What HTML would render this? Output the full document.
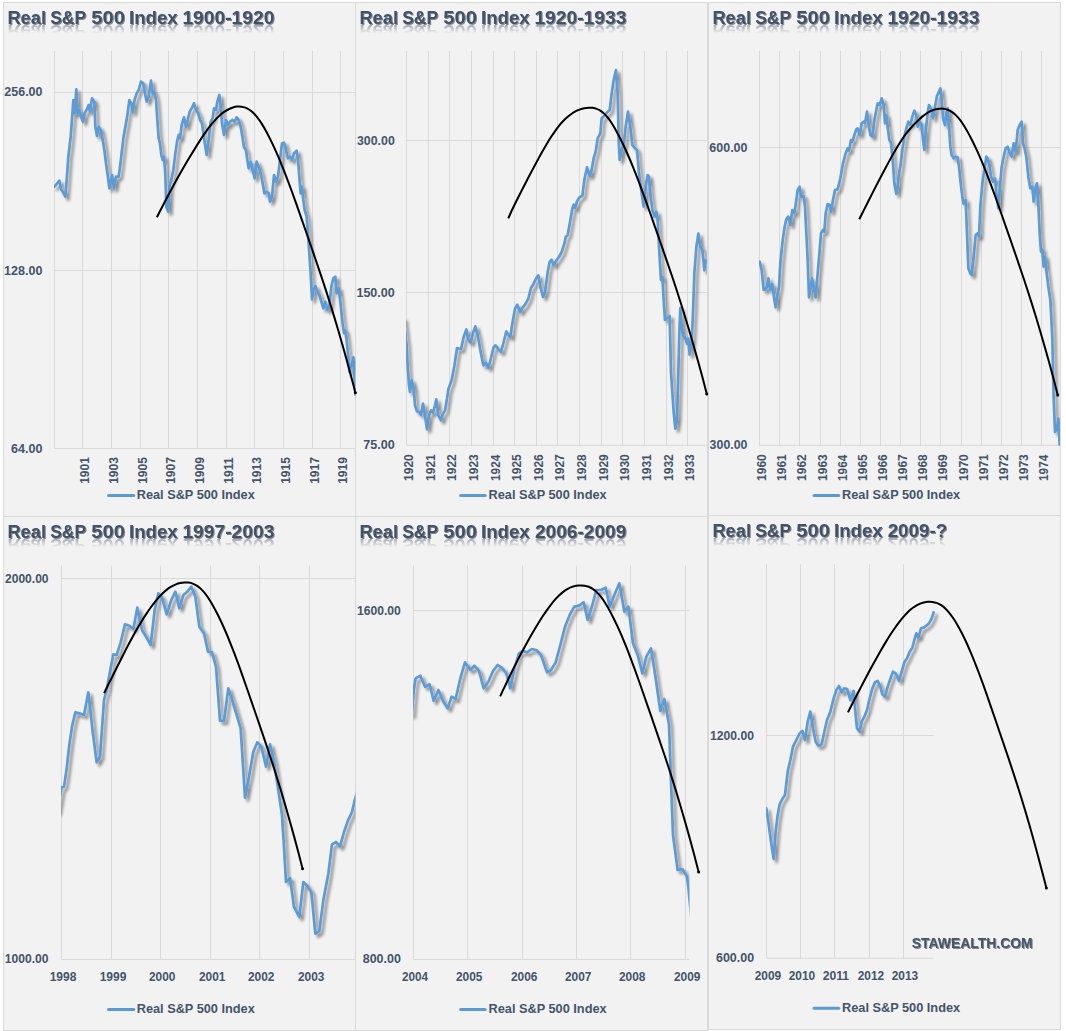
<!DOCTYPE html>
<html><head><meta charset="utf-8"><title>Real S&amp;P 500 Index</title>
<style>html,body{margin:0;padding:0;background:#fff;}body{width:1066px;height:1031px;overflow:hidden;font-family:"Liberation Sans",sans-serif;}svg{display:block;}text{font-family:"Liberation Sans",sans-serif;font-weight:bold;}</style>
</head><body>
<svg width="1066" height="1031" viewBox="0 0 1066 1031">
<defs>
<filter id="sh" x="-5%" y="-5%" width="110%" height="110%"><feGaussianBlur in="SourceAlpha" stdDeviation="1.7"/><feOffset dx="3" dy="2.6"/><feComponentTransfer><feFuncA type="linear" slope="0.44"/></feComponentTransfer><feMerge><feMergeNode/><feMergeNode in="SourceGraphic"/></feMerge></filter>
<filter id="tsh" x="-5%" y="-30%" width="110%" height="160%"><feGaussianBlur in="SourceAlpha" stdDeviation="0.7"/><feOffset dx="1" dy="1"/><feComponentTransfer><feFuncA type="linear" slope="0.45"/></feComponentTransfer><feMerge><feMergeNode/><feMergeNode in="SourceGraphic"/></feMerge></filter>
<filter id="rb" x="-5%" y="-30%" width="110%" height="160%"><feGaussianBlur stdDeviation="0.5"/></filter>
<linearGradient id="rg" x1="0" y1="0" x2="0" y2="1"><stop offset="0" stop-color="#fff" stop-opacity="0.5"/><stop offset="1" stop-color="#fff" stop-opacity="0"/></linearGradient>
<clipPath id="c1"><rect x="54" y="51" width="301.5" height="398"/></clipPath>
<mask id="m1" maskUnits="userSpaceOnUse" x="3.7" y="24.2" width="290" height="12"><rect x="3.7" y="24.2" width="290" height="9" fill="url(#rg)"/></mask>
<clipPath id="c2"><rect x="406" y="51" width="301" height="394.8"/></clipPath>
<mask id="m2" maskUnits="userSpaceOnUse" x="355.7" y="24.2" width="290" height="12"><rect x="355.7" y="24.2" width="290" height="9" fill="url(#rg)"/></mask>
<clipPath id="c3"><rect x="759" y="51" width="301" height="394.8"/></clipPath>
<mask id="m3" maskUnits="userSpaceOnUse" x="708.7" y="24.2" width="290" height="12"><rect x="708.7" y="24.2" width="290" height="9" fill="url(#rg)"/></mask>
<clipPath id="c4"><rect x="61" y="565.7" width="294.5" height="394.3"/></clipPath>
<mask id="m4" maskUnits="userSpaceOnUse" x="3.7" y="538.1" width="290" height="12"><rect x="3.7" y="538.1" width="290" height="9" fill="url(#rg)"/></mask>
<clipPath id="c5"><rect x="413" y="565.7" width="276.5" height="394.3"/></clipPath>
<mask id="m5" maskUnits="userSpaceOnUse" x="355.7" y="538.1" width="290" height="12"><rect x="355.7" y="538.1" width="290" height="9" fill="url(#rg)"/></mask>
<clipPath id="c6"><rect x="766" y="564.3" width="294" height="394.5"/></clipPath>
<mask id="m6" maskUnits="userSpaceOnUse" x="708.7" y="537.4" width="290" height="12"><rect x="708.7" y="537.4" width="290" height="9" fill="url(#rg)"/></mask>
</defs>
<rect x="0" y="0" width="1066" height="1031" fill="#fff"/>
<rect x="3" y="2" width="1058" height="1029" fill="#F2F2F2"/>
<rect x="709" y="1030" width="357" height="1" fill="#fff"/>
<g fill="#D9D9D9">
<rect x="3" y="2" width="1058" height="1"/>
<rect x="3" y="2" width="1" height="1029"/>
<rect x="355" y="2" width="1" height="1029"/>
<rect x="707" y="2" width="2" height="1029"/>
<rect x="1060" y="2" width="1" height="1028"/>
<rect x="3" y="516" width="705" height="1"/>
<rect x="708" y="515" width="353" height="1"/>
<rect x="3" y="1030" width="706" height="1"/>
<rect x="708" y="1029" width="353" height="1"/>
</g>
<!-- panel 1 -->
<g>
<path d="M54.5 51 V448.5 M82.5 51 V448.5 M111.5 51 V448.5 M140.5 51 V448.5 M168.5 51 V448.5 M197.5 51 V448.5 M226.5 51 V448.5 M254.5 51 V448.5 M283.5 51 V448.5 M312.5 51 V448.5 M340.5 51 V448.5 M54.5 92.5 H355 M54.5 270.5 H355 M54.5 448.5 H355" stroke="#D9D9D9" stroke-width="1" fill="none"/>
<g mask="url(#m1)"><g filter="url(#rb)" transform="translate(0 48.6) scale(1 -1)"><text x="7.4" y="23.7" font-size="17.6" fill="#42516A" textLength="38.61" lengthAdjust="spacingAndGlyphs">Real</text><text x="50.2" y="23.7" font-size="17.6" fill="#42516A" textLength="35.86" lengthAdjust="spacingAndGlyphs">S&amp;P</text><text x="91.23" y="23.7" font-size="17.6" fill="#42516A" textLength="33.65" lengthAdjust="spacingAndGlyphs">500</text><text x="128.97" y="23.7" font-size="17.6" fill="#42516A" textLength="48.74" lengthAdjust="spacingAndGlyphs">Index</text><text x="182.41" y="23.7" font-size="17.6" fill="#42516A" textLength="91.99" lengthAdjust="spacingAndGlyphs">1900-1920</text></g></g>
<g filter="url(#tsh)"><text x="7.4" y="23.7" font-size="17.6" fill="#42516A" textLength="38.61" lengthAdjust="spacingAndGlyphs">Real</text><text x="50.2" y="23.7" font-size="17.6" fill="#42516A" textLength="35.86" lengthAdjust="spacingAndGlyphs">S&amp;P</text><text x="91.23" y="23.7" font-size="17.6" fill="#42516A" textLength="33.65" lengthAdjust="spacingAndGlyphs">500</text><text x="128.97" y="23.7" font-size="17.6" fill="#42516A" textLength="48.74" lengthAdjust="spacingAndGlyphs">Index</text><text x="182.41" y="23.7" font-size="17.6" fill="#42516A" textLength="91.99" lengthAdjust="spacingAndGlyphs">1900-1920</text></g>
<text x="4.38" y="96.1" font-size="12" fill="#44546A" textLength="38.09" lengthAdjust="spacingAndGlyphs">256.00</text>
<text x="4.12" y="275" font-size="12" fill="#44546A" textLength="38.36" lengthAdjust="spacingAndGlyphs">128.00</text>
<text x="11.08" y="453" font-size="12" fill="#44546A" textLength="31.48" lengthAdjust="spacingAndGlyphs">64.00</text>
<text transform="translate(89 483.1) rotate(-90)" x="-0.75" y="0" font-size="12" fill="#44546A" textLength="26.7" lengthAdjust="spacingAndGlyphs">1901</text>
<text transform="translate(118 483.1) rotate(-90)" x="-0.75" y="0" font-size="12" fill="#44546A" textLength="26.7" lengthAdjust="spacingAndGlyphs">1903</text>
<text transform="translate(147 483.1) rotate(-90)" x="-0.75" y="0" font-size="12" fill="#44546A" textLength="26.7" lengthAdjust="spacingAndGlyphs">1905</text>
<text transform="translate(175 483.1) rotate(-90)" x="-0.75" y="0" font-size="12" fill="#44546A" textLength="26.7" lengthAdjust="spacingAndGlyphs">1907</text>
<text transform="translate(204 483.1) rotate(-90)" x="-0.75" y="0" font-size="12" fill="#44546A" textLength="26.7" lengthAdjust="spacingAndGlyphs">1909</text>
<text transform="translate(233 483.1) rotate(-90)" x="-0.77" y="0" font-size="12" fill="#44546A" textLength="26.55" lengthAdjust="spacingAndGlyphs">1911</text>
<text transform="translate(261 483.1) rotate(-90)" x="-0.75" y="0" font-size="12" fill="#44546A" textLength="26.7" lengthAdjust="spacingAndGlyphs">1913</text>
<text transform="translate(290 483.1) rotate(-90)" x="-0.75" y="0" font-size="12" fill="#44546A" textLength="26.7" lengthAdjust="spacingAndGlyphs">1915</text>
<text transform="translate(319 483.1) rotate(-90)" x="-0.75" y="0" font-size="12" fill="#44546A" textLength="26.7" lengthAdjust="spacingAndGlyphs">1917</text>
<text transform="translate(347 483.1) rotate(-90)" x="-0.75" y="0" font-size="12" fill="#44546A" textLength="26.7" lengthAdjust="spacingAndGlyphs">1919</text>
<path d="M108.5 495.5 H133.8" stroke="#5B9BD5" stroke-width="3" stroke-linecap="round" fill="none"/>
<text x="136.7" y="499" font-size="12" fill="#44546A" textLength="118.11" lengthAdjust="spacingAndGlyphs">Real S&amp;P 500 Index</text>
<g clip-path="url(#c1)"><path filter="url(#sh)" d="M54.33 186.67 L56.67 184 L59.33 180.67 L61 189.33 L63.33 192.67 L65.33 196.67 L66.67 180 L68.33 156.67 L70.67 136.67 L72.67 110 L73.33 100 L74.67 113.33 L76.33 89.33 L77.67 113.33 L79.33 110 L81 116.67 L83 121.67 L84.67 113.33 L87.33 108.33 L88.67 105 L90 111.67 L92 98.33 L94.33 101.67 L95.33 126.67 L97 136 L98.67 126.67 L101 130.67 L102.67 140 L104.33 150 L106 163.33 L107.67 175 L109.33 188.33 L112 175 L114 188.33 L116 176.67 L118.67 176.67 L120.67 161.67 L123.33 138.33 L126 123.33 L127.67 113.33 L129.33 100 L131.33 103.33 L132.67 112.67 L134.67 99.33 L136.67 93.33 L138.67 90 L141 81.67 L143.33 83.33 L144.67 91.67 L146.67 101.67 L148.67 96.67 L151 80.67 L152.67 93.33 L154 91.67 L156 100 L157.33 120 L158.67 138.33 L160 143.33 L161.33 155 L162.67 160 L164 156.67 L165.33 175 L166.33 206.67 L168.33 211.67 L169.33 186.67 L171.33 180 L173.33 170 L175.33 153.33 L177.33 140 L178.67 135 L180 138.33 L181.67 125 L184 117.33 L186 126.67 L187.67 120 L189.67 111.67 L191.67 108.33 L194 103.33 L196 110 L198.33 113.33 L200 120 L202 123.33 L204 138.33 L206.67 155 L208.67 140 L210.67 121.67 L212.67 118.33 L214 108.33 L216 110 L217.33 101.67 L219.33 95 L220.67 106.67 L222 123.33 L224 135 L226 120 L228 125 L230 121.67 L232.67 120 L234.67 121.67 L236.67 117.33 L238.67 120 L240.67 126.67 L242.67 138.33 L244 147.33 L246 150 L247.33 160 L248.67 168.33 L250.67 161.67 L252.67 170 L254.67 178.33 L256.67 161.67 L258.67 166.67 L260.67 173.33 L262.67 183.33 L264.33 193.33 L266.67 191.67 L268.67 193.33 L270 201.67 L272 196.67 L274 175 L276 181.67 L278 176.67 L280 160 L282 143.33 L284 142.67 L286 150 L288 158.33 L290 156.67 L292 160 L294 153.33 L296.67 150.67 L298 160 L299.33 176.67 L300.67 193.33 L302 186.67 L303.33 200 L304.67 210 L306.67 216.67 L308 233.33 L309.33 253.33 L310.67 273.33 L312 299.33 L313.33 290 L315.33 286 L317.33 291.67 L319.33 295 L321.33 301.67 L323.33 308.33 L325.33 301.67 L327.33 310 L329.33 306.67 L331.33 286.67 L333.33 278.33 L335.33 276.67 L336.67 293.33 L338.67 288.33 L339.7 296 L340.9 307.6 L342.5 322.4 L343.9 333.1 L345.2 330.3 L346.5 338.9 L347.5 348.8 L348.5 360.4 L349.5 371.9 L351.3 365.3 L353.4 357.4 L354.1 370.3 L354.9 386.8 L355.5 395" stroke="#5B9BD5" stroke-width="2.7" stroke-linejoin="round" stroke-linecap="round" fill="none"/></g>
<path d="M156.9 217.2 C157.6 215.83 159.71 211.7 161.12 208.97 C162.53 206.24 163.94 203.52 165.35 200.82 C166.76 198.12 168.16 195.41 169.57 192.75 C170.98 190.09 172.38 187.47 173.79 184.88 C175.2 182.29 176.6 179.75 178.01 177.24 C179.42 174.73 180.83 172.26 182.24 169.82 C183.65 167.38 185.05 164.97 186.46 162.58 C187.87 160.2 189.27 157.84 190.68 155.51 C192.09 153.18 193.5 150.88 194.91 148.61 C196.32 146.34 197.72 144.07 199.13 141.87 C200.54 139.67 201.94 137.51 203.35 135.43 C204.76 133.35 206.17 131.33 207.58 129.41 C208.99 127.49 210.39 125.63 211.8 123.91 C213.21 122.19 214.61 120.57 216.02 119.08 C217.43 117.59 218.83 116.2 220.24 114.97 C221.65 113.74 223.06 112.64 224.47 111.69 C225.88 110.73 227.28 109.94 228.69 109.24 C230.1 108.54 231.5 107.92 232.91 107.48 C234.32 107.04 235.74 106.73 237.14 106.6 C238.54 106.47 239.94 106.51 241.32 106.69 C242.7 106.87 244.05 107.17 245.4 107.68 C246.75 108.19 248.08 108.84 249.42 109.73 C250.76 110.62 252.09 111.69 253.43 113 C254.77 114.31 256.13 115.84 257.48 117.57 C258.83 119.3 260.16 121.25 261.51 123.37 C262.86 125.49 264.21 127.81 265.57 130.27 C266.93 132.73 268.3 135.36 269.68 138.12 C271.06 140.88 272.47 143.79 273.88 146.83 C275.29 149.87 276.71 153.06 278.13 156.36 C279.55 159.66 280.97 163.09 282.39 166.62 C283.81 170.15 285.23 173.82 286.66 177.55 C288.09 181.28 289.52 185.12 290.95 189.02 C292.38 192.92 293.81 196.91 295.24 200.93 C296.67 204.95 298.11 209.03 299.54 213.12 C300.97 217.21 302.4 221.33 303.83 225.45 C305.26 229.57 306.7 233.7 308.13 237.83 C309.56 241.96 310.99 246.08 312.42 250.23 C313.85 254.38 315.27 258.53 316.7 262.72 C318.13 266.91 319.56 271.11 320.99 275.39 C322.42 279.67 323.85 283.98 325.28 288.38 C326.71 292.78 328.13 297.24 329.56 301.79 C330.99 306.34 332.43 310.96 333.86 315.67 C335.29 320.38 336.72 325.19 338.16 330.08 C339.6 334.97 341.04 339.96 342.48 345.03 C343.92 350.1 345.37 355.25 346.81 360.49 C348.25 365.73 349.69 371.06 351.12 376.44 C352.55 381.82 354.67 390.06 355.38 392.79" stroke="#000" stroke-width="2" stroke-linecap="butt" fill="none"/>
<circle cx="355.38" cy="392.79" r="1.5" fill="#000"/>
</g>
<!-- panel 2 -->
<g>
<path d="M406.5 51 V445.3 M428.5 51 V445.3 M449.5 51 V445.3 M471.5 51 V445.3 M493.5 51 V445.3 M514.5 51 V445.3 M536.5 51 V445.3 M557.5 51 V445.3 M579.5 51 V445.3 M601.5 51 V445.3 M622.5 51 V445.3 M644.5 51 V445.3 M666.5 51 V445.3 M687.5 51 V445.3 M406.5 140.5 H708 M406.5 292.5 H708 M406.5 445.3 H708" stroke="#D9D9D9" stroke-width="1" fill="none"/>
<g mask="url(#m2)"><g filter="url(#rb)" transform="translate(0 48.6) scale(1 -1)"><text x="359.4" y="23.7" font-size="17.6" fill="#42516A" textLength="38.61" lengthAdjust="spacingAndGlyphs">Real</text><text x="402.2" y="23.7" font-size="17.6" fill="#42516A" textLength="35.86" lengthAdjust="spacingAndGlyphs">S&amp;P</text><text x="443.23" y="23.7" font-size="17.6" fill="#42516A" textLength="33.65" lengthAdjust="spacingAndGlyphs">500</text><text x="480.97" y="23.7" font-size="17.6" fill="#42516A" textLength="48.74" lengthAdjust="spacingAndGlyphs">Index</text><text x="534.41" y="23.7" font-size="17.6" fill="#42516A" textLength="91.99" lengthAdjust="spacingAndGlyphs">1920-1933</text></g></g>
<g filter="url(#tsh)"><text x="359.4" y="23.7" font-size="17.6" fill="#42516A" textLength="38.61" lengthAdjust="spacingAndGlyphs">Real</text><text x="402.2" y="23.7" font-size="17.6" fill="#42516A" textLength="35.86" lengthAdjust="spacingAndGlyphs">S&amp;P</text><text x="443.23" y="23.7" font-size="17.6" fill="#42516A" textLength="33.65" lengthAdjust="spacingAndGlyphs">500</text><text x="480.97" y="23.7" font-size="17.6" fill="#42516A" textLength="48.74" lengthAdjust="spacingAndGlyphs">Index</text><text x="534.41" y="23.7" font-size="17.6" fill="#42516A" textLength="91.99" lengthAdjust="spacingAndGlyphs">1920-1933</text></g>
<text x="356.94" y="145.1" font-size="12" fill="#44546A" textLength="37.82" lengthAdjust="spacingAndGlyphs">300.00</text>
<text x="356.42" y="297.1" font-size="12" fill="#44546A" textLength="38.36" lengthAdjust="spacingAndGlyphs">150.00</text>
<text x="363.38" y="449.3" font-size="12" fill="#44546A" textLength="31.48" lengthAdjust="spacingAndGlyphs">75.00</text>
<text transform="translate(412.9 480.2) rotate(-90)" x="-0.75" y="0" font-size="12" fill="#44546A" textLength="26.7" lengthAdjust="spacingAndGlyphs">1920</text>
<text transform="translate(434.9 480.2) rotate(-90)" x="-0.75" y="0" font-size="12" fill="#44546A" textLength="26.7" lengthAdjust="spacingAndGlyphs">1921</text>
<text transform="translate(455.9 480.2) rotate(-90)" x="-0.75" y="0" font-size="12" fill="#44546A" textLength="26.7" lengthAdjust="spacingAndGlyphs">1922</text>
<text transform="translate(477.9 480.2) rotate(-90)" x="-0.75" y="0" font-size="12" fill="#44546A" textLength="26.7" lengthAdjust="spacingAndGlyphs">1923</text>
<text transform="translate(499.9 480.2) rotate(-90)" x="-0.74" y="0" font-size="12" fill="#44546A" textLength="26.18" lengthAdjust="spacingAndGlyphs">1924</text>
<text transform="translate(520.9 480.2) rotate(-90)" x="-0.75" y="0" font-size="12" fill="#44546A" textLength="26.7" lengthAdjust="spacingAndGlyphs">1925</text>
<text transform="translate(542.9 480.2) rotate(-90)" x="-0.75" y="0" font-size="12" fill="#44546A" textLength="26.7" lengthAdjust="spacingAndGlyphs">1926</text>
<text transform="translate(563.9 480.2) rotate(-90)" x="-0.75" y="0" font-size="12" fill="#44546A" textLength="26.7" lengthAdjust="spacingAndGlyphs">1927</text>
<text transform="translate(585.9 480.2) rotate(-90)" x="-0.75" y="0" font-size="12" fill="#44546A" textLength="26.7" lengthAdjust="spacingAndGlyphs">1928</text>
<text transform="translate(607.9 480.2) rotate(-90)" x="-0.75" y="0" font-size="12" fill="#44546A" textLength="26.7" lengthAdjust="spacingAndGlyphs">1929</text>
<text transform="translate(628.9 480.2) rotate(-90)" x="-0.75" y="0" font-size="12" fill="#44546A" textLength="26.7" lengthAdjust="spacingAndGlyphs">1930</text>
<text transform="translate(650.9 480.2) rotate(-90)" x="-0.75" y="0" font-size="12" fill="#44546A" textLength="26.7" lengthAdjust="spacingAndGlyphs">1931</text>
<text transform="translate(672.9 480.2) rotate(-90)" x="-0.75" y="0" font-size="12" fill="#44546A" textLength="26.7" lengthAdjust="spacingAndGlyphs">1932</text>
<text transform="translate(693.9 480.2) rotate(-90)" x="-0.75" y="0" font-size="12" fill="#44546A" textLength="26.7" lengthAdjust="spacingAndGlyphs">1933</text>
<path d="M460.7 495.5 H485.2" stroke="#5B9BD5" stroke-width="3" stroke-linecap="round" fill="none"/>
<text x="488.5" y="499" font-size="12" fill="#44546A" textLength="118.11" lengthAdjust="spacingAndGlyphs">Real S&amp;P 500 Index</text>
<g clip-path="url(#c2)"><path filter="url(#sh)" d="M403.67 318.67 L406.67 345.33 L407.67 365.33 L409 385.33 L410 392 L411.67 380.33 L413.67 388.67 L415 405.33 L417 411.33 L419 412 L421 414.67 L423 403.67 L425 415.33 L427 429.33 L429 415.33 L431 410.33 L433 412.67 L435 405.33 L436.33 399.33 L438.33 415.33 L441 420.33 L443 413.67 L445 410.33 L447 398.67 L448.33 389.33 L451.67 380.33 L454.33 366 L457 348 L461 349.33 L463.67 337 L466.33 329.33 L468.33 340.33 L470.67 342.67 L473.33 332 L475.33 326.33 L477.67 335.33 L480.33 350.33 L483.33 365.33 L486 362.67 L488.33 368 L491 358 L493.67 347 L495.67 345.33 L498.33 349.33 L501 352 L503.67 342 L506.33 331.33 L508.33 334.67 L510.33 337 L512.33 323.67 L515 308.67 L517.33 304.67 L520 312 L522.67 307.67 L525.67 303.67 L528.33 298.67 L531 288 L533.67 283.67 L536.33 278 L538.33 275.33 L540.33 287 L543 297 L545 292 L547.67 272 L549.67 262 L551.67 259.67 L553.67 265.33 L556.33 260.33 L559 257 L561.67 252 L564.33 243.67 L565.67 237 L567.67 235.33 L570.33 220.33 L572.33 208.67 L573.67 204.67 L575 208 L577 201.33 L579.67 197 L582.33 196 L584.33 180 L587 167.33 L589.67 176 L591.67 170 L593.67 158.33 L595.67 151.67 L597.67 138.33 L600.33 133.33 L601.67 118.33 L604.33 116 L607 112.67 L609.67 110 L611.67 93.33 L613.67 80 L616 70 L617.67 93.33 L618.67 140 L619.67 160 L621.67 150 L623.67 145 L625.67 126.67 L628 111.67 L630.33 126.67 L632.33 145 L635 148.33 L637 150 L639 173.33 L641.67 193.33 L643.67 206.67 L645.67 186.67 L647.67 175 L649 176.67 L650.33 193.33 L652.33 210 L654.33 216.67 L656.33 211.67 L657.67 220 L659 246.67 L661 280 L662.33 276.67 L663.67 300 L665 320 L667 318.33 L669.67 316 L670.33 345.33 L671 372 L672.33 392 L673.67 412 L675.33 428.67 L677 418.67 L678.33 372 L679.33 332 L680.33 308 L681.67 327 L683 336 L685 337 L687 343.67 L688.33 338.67 L689.67 354.67 L691.67 340.33 L693 313.67 L694.33 273.67 L696.33 247 L698.33 233.67 L700.33 247 L702.33 249.33 L704.33 270.33 L705.67 260.33" stroke="#5B9BD5" stroke-width="2.7" stroke-linejoin="round" stroke-linecap="round" fill="none"/></g>
<path d="M508.3 218.35 C509 216.79 511.11 211.99 512.52 208.98 C513.93 205.97 515.34 203.14 516.75 200.3 C518.16 197.46 519.56 194.69 520.97 191.92 C522.38 189.15 523.78 186.4 525.19 183.68 C526.6 180.96 528 178.26 529.41 175.58 C530.82 172.9 532.23 170.24 533.64 167.6 C535.05 164.96 536.45 162.35 537.86 159.76 C539.27 157.17 540.67 154.57 542.08 152.06 C543.49 149.55 544.9 147.05 546.31 144.68 C547.72 142.31 549.12 140.02 550.53 137.83 C551.94 135.64 553.34 133.55 554.75 131.55 C556.16 129.55 557.57 127.59 558.98 125.84 C560.39 124.09 561.79 122.5 563.2 121.03 C564.61 119.56 566.01 118.27 567.42 117.05 C568.83 115.83 570.23 114.69 571.64 113.72 C573.05 112.75 574.46 111.93 575.87 111.2 C577.28 110.47 578.68 109.85 580.09 109.35 C581.5 108.85 582.9 108.47 584.31 108.2 C585.72 107.93 587.14 107.78 588.54 107.72 C589.94 107.66 591.35 107.66 592.71 107.84 C594.08 108.03 595.4 108.32 596.73 108.83 C598.06 109.34 599.36 109.99 600.67 110.88 C601.98 111.77 603.28 112.84 604.6 114.15 C605.92 115.46 607.26 116.99 608.58 118.72 C609.9 120.45 611.21 122.4 612.54 124.52 C613.87 126.64 615.19 128.96 616.53 131.42 C617.87 133.88 619.21 136.51 620.59 139.27 C621.97 142.03 623.38 144.94 624.79 147.98 C626.2 151.02 627.63 154.21 629.05 157.51 C630.47 160.81 631.9 164.24 633.33 167.77 C634.76 171.3 636.19 174.97 637.62 178.7 C639.05 182.43 640.49 186.27 641.93 190.17 C643.37 194.07 644.81 198.06 646.25 202.08 C647.69 206.1 649.13 210.18 650.57 214.27 C652.01 218.36 653.45 222.48 654.89 226.6 C656.33 230.72 657.78 234.85 659.22 238.98 C660.66 243.11 662.09 247.23 663.53 251.38 C664.97 255.53 666.4 259.68 667.84 263.87 C669.28 268.06 670.72 272.26 672.16 276.54 C673.6 280.82 675.03 285.13 676.47 289.53 C677.91 293.93 679.34 298.39 680.78 302.94 C682.22 307.49 683.67 312.11 685.11 316.82 C686.55 321.53 687.98 326.34 689.43 331.23 C690.88 336.12 692.33 341.11 693.79 346.18 C695.25 351.25 696.71 356.4 698.16 361.64 C699.61 366.88 701.07 372.21 702.51 377.59 C703.95 382.97 706.07 391.21 706.78 393.94" stroke="#000" stroke-width="2" stroke-linecap="butt" fill="none"/>
<circle cx="706.78" cy="393.94" r="1.5" fill="#000"/>
</g>
<!-- panel 3 -->
<g>
<path d="M759.5 51 V445.3 M779.5 51 V445.3 M799.5 51 V445.3 M820.5 51 V445.3 M840.5 51 V445.3 M860.5 51 V445.3 M880.5 51 V445.3 M900.5 51 V445.3 M920.5 51 V445.3 M940.5 51 V445.3 M961.5 51 V445.3 M981.5 51 V445.3 M1001.5 51 V445.3 M1021.5 51 V445.3 M1041.5 51 V445.3 M759.5 147.5 H1060 M759.5 445.3 H1060" stroke="#D9D9D9" stroke-width="1" fill="none"/>
<g mask="url(#m3)"><g filter="url(#rb)" transform="translate(0 48.6) scale(1 -1)"><text x="712.4" y="23.7" font-size="17.6" fill="#42516A" textLength="38.61" lengthAdjust="spacingAndGlyphs">Real</text><text x="755.2" y="23.7" font-size="17.6" fill="#42516A" textLength="35.86" lengthAdjust="spacingAndGlyphs">S&amp;P</text><text x="796.23" y="23.7" font-size="17.6" fill="#42516A" textLength="33.65" lengthAdjust="spacingAndGlyphs">500</text><text x="833.97" y="23.7" font-size="17.6" fill="#42516A" textLength="48.74" lengthAdjust="spacingAndGlyphs">Index</text><text x="887.41" y="23.7" font-size="17.6" fill="#42516A" textLength="91.99" lengthAdjust="spacingAndGlyphs">1920-1933</text></g></g>
<g filter="url(#tsh)"><text x="712.4" y="23.7" font-size="17.6" fill="#42516A" textLength="38.61" lengthAdjust="spacingAndGlyphs">Real</text><text x="755.2" y="23.7" font-size="17.6" fill="#42516A" textLength="35.86" lengthAdjust="spacingAndGlyphs">S&amp;P</text><text x="796.23" y="23.7" font-size="17.6" fill="#42516A" textLength="33.65" lengthAdjust="spacingAndGlyphs">500</text><text x="833.97" y="23.7" font-size="17.6" fill="#42516A" textLength="48.74" lengthAdjust="spacingAndGlyphs">Index</text><text x="887.41" y="23.7" font-size="17.6" fill="#42516A" textLength="91.99" lengthAdjust="spacingAndGlyphs">1920-1933</text></g>
<text x="709.38" y="151.6" font-size="12" fill="#44546A" textLength="38.09" lengthAdjust="spacingAndGlyphs">600.00</text>
<text x="709.64" y="449.4" font-size="12" fill="#44546A" textLength="37.82" lengthAdjust="spacingAndGlyphs">300.00</text>
<text transform="translate(765.9 480.2) rotate(-90)" x="-0.75" y="0" font-size="12" fill="#44546A" textLength="26.7" lengthAdjust="spacingAndGlyphs">1960</text>
<text transform="translate(785.9 480.2) rotate(-90)" x="-0.75" y="0" font-size="12" fill="#44546A" textLength="26.7" lengthAdjust="spacingAndGlyphs">1961</text>
<text transform="translate(805.9 480.2) rotate(-90)" x="-0.75" y="0" font-size="12" fill="#44546A" textLength="26.7" lengthAdjust="spacingAndGlyphs">1962</text>
<text transform="translate(826.9 480.2) rotate(-90)" x="-0.75" y="0" font-size="12" fill="#44546A" textLength="26.7" lengthAdjust="spacingAndGlyphs">1963</text>
<text transform="translate(846.9 480.2) rotate(-90)" x="-0.74" y="0" font-size="12" fill="#44546A" textLength="26.18" lengthAdjust="spacingAndGlyphs">1964</text>
<text transform="translate(866.9 480.2) rotate(-90)" x="-0.75" y="0" font-size="12" fill="#44546A" textLength="26.7" lengthAdjust="spacingAndGlyphs">1965</text>
<text transform="translate(886.9 480.2) rotate(-90)" x="-0.75" y="0" font-size="12" fill="#44546A" textLength="26.7" lengthAdjust="spacingAndGlyphs">1966</text>
<text transform="translate(906.9 480.2) rotate(-90)" x="-0.75" y="0" font-size="12" fill="#44546A" textLength="26.7" lengthAdjust="spacingAndGlyphs">1967</text>
<text transform="translate(926.9 480.2) rotate(-90)" x="-0.75" y="0" font-size="12" fill="#44546A" textLength="26.7" lengthAdjust="spacingAndGlyphs">1968</text>
<text transform="translate(946.9 480.2) rotate(-90)" x="-0.75" y="0" font-size="12" fill="#44546A" textLength="26.7" lengthAdjust="spacingAndGlyphs">1969</text>
<text transform="translate(967.9 480.2) rotate(-90)" x="-0.75" y="0" font-size="12" fill="#44546A" textLength="26.7" lengthAdjust="spacingAndGlyphs">1970</text>
<text transform="translate(987.9 480.2) rotate(-90)" x="-0.75" y="0" font-size="12" fill="#44546A" textLength="26.7" lengthAdjust="spacingAndGlyphs">1971</text>
<text transform="translate(1007.9 480.2) rotate(-90)" x="-0.75" y="0" font-size="12" fill="#44546A" textLength="26.7" lengthAdjust="spacingAndGlyphs">1972</text>
<text transform="translate(1027.9 480.2) rotate(-90)" x="-0.75" y="0" font-size="12" fill="#44546A" textLength="26.7" lengthAdjust="spacingAndGlyphs">1973</text>
<text transform="translate(1047.9 480.2) rotate(-90)" x="-0.74" y="0" font-size="12" fill="#44546A" textLength="26.18" lengthAdjust="spacingAndGlyphs">1974</text>
<path d="M814 495.5 H838.8" stroke="#5B9BD5" stroke-width="3" stroke-linecap="round" fill="none"/>
<text x="842" y="499" font-size="12" fill="#44546A" textLength="118.11" lengthAdjust="spacingAndGlyphs">Real S&amp;P 500 Index</text>
<g clip-path="url(#c3)"><path filter="url(#sh)" d="M759.67 261.67 L761.67 270 L763.67 290 L765.67 289.33 L767 286.67 L768.33 278.33 L770.33 290 L772.33 284 L774.33 300 L775.67 307.33 L777.67 293.33 L779 286.67 L780.33 263.33 L782.33 243.33 L784.33 228.33 L786.33 219.33 L788.33 216.67 L790.33 225 L792.33 210 L794.33 213.33 L796.33 200 L797.67 190 L799.67 186.67 L801 196.67 L803.67 196 L805 206.67 L806.33 233.33 L807.67 260 L809 297.33 L810.33 290 L812 278.33 L813.67 286.67 L815.67 297.33 L817.67 273.33 L819.67 250 L821 233.33 L823 230 L824.33 231.67 L825.67 213.33 L827.67 204 L829.67 205 L831 211.67 L833 200 L835 190 L837.67 189.33 L840.33 178.33 L843 163.33 L845.67 153.33 L847.67 148.33 L849 150.67 L851 140 L852.33 141.67 L854.33 135 L856.33 129.33 L857.67 128.33 L859.67 135 L861.67 123.33 L863.67 121.67 L865 123.33 L867 111.67 L869 126.67 L870.33 135 L872.33 136.67 L874.33 120 L876.33 110 L877.67 103.33 L879.67 105 L881.67 98.33 L883.67 105 L885 123.33 L886.33 115 L887.67 126.67 L889.33 140 L891 142.67 L893 163.33 L894.33 183.33 L896.33 194 L897.67 186.67 L899 173.33 L900.33 166.67 L902.33 150 L904.33 136.67 L906.33 128.33 L908.33 121.67 L910.33 125 L912.33 116.67 L914.33 110.67 L916.33 115 L917.67 126.67 L919.67 121.67 L921.67 125 L923 140 L924.33 150 L925.67 131.67 L927.67 113.33 L929 105 L931 108.33 L933 118.33 L935 106.67 L937 96 L939 91.67 L940.33 88.33 L941.67 100 L943 118.33 L945 125 L946.33 113.33 L947.67 108.33 L949 126.67 L950.33 146.67 L951.67 155 L953.67 158.33 L955.67 156.67 L957.67 157.33 L959 166.67 L960.33 180 L962.33 196.67 L963.67 204 L965.67 200 L967 233.33 L968.33 268.33 L970.33 273.33 L971.67 275 L973.67 256.67 L975.67 235 L977.67 233.33 L979 236.67 L980.33 206.67 L982.33 183.33 L984.33 170 L986.33 156.67 L987.67 158.33 L989.67 166.67 L991 176.67 L993 181.67 L995 178.33 L996.33 193.33 L998.33 208.33 L999.67 190 L1001.67 166.67 L1003.67 156.67 L1005.67 148.33 L1007.67 146.67 L1009.67 153.33 L1011.67 156.67 L1013.67 143.33 L1015.67 151.67 L1017.67 130 L1019.67 125 L1021.67 121.67 L1023 143.33 L1024.33 147.33 L1026.33 156.67 L1028.33 176.67 L1030.33 188.33 L1032.33 186.67 L1033.67 201.67 L1035.67 186.67 L1037 183.33 L1038.33 203.33 L1039.67 233.33 L1041 251.67 L1042.33 249.33 L1043.67 266.67 L1045 256.67 L1046.33 270 L1048.33 286.67 L1050.33 300 L1051 312 L1052.33 338.67 L1053.67 398.67 L1055 432 L1057 428.67 L1058.33 418.67 L1059.67 444.67" stroke="#5B9BD5" stroke-width="2.7" stroke-linejoin="round" stroke-linecap="round" fill="none"/></g>
<path d="M859.25 219.3 C859.95 217.89 862.06 213.65 863.47 210.84 C864.88 208.03 866.29 205.23 867.7 202.44 C869.11 199.65 870.51 196.88 871.92 194.12 C873.33 191.36 874.73 188.6 876.14 185.87 C877.55 183.14 878.95 180.43 880.36 177.74 C881.77 175.05 883.18 172.37 884.59 169.72 C886 167.07 887.4 164.44 888.81 161.86 C890.22 159.28 891.62 156.74 893.03 154.26 C894.44 151.78 895.85 149.34 897.26 146.99 C898.67 144.65 900.07 142.32 901.48 140.19 C902.89 138.06 904.29 136.08 905.7 134.21 C907.11 132.34 908.52 130.62 909.93 128.98 C911.34 127.34 912.74 125.81 914.15 124.35 C915.56 122.88 916.96 121.52 918.37 120.19 C919.78 118.86 921.18 117.53 922.59 116.38 C924 115.22 925.41 114.17 926.82 113.26 C928.23 112.35 929.63 111.57 931.04 110.93 C932.45 110.29 933.85 109.78 935.26 109.4 C936.67 109.03 938.09 108.78 939.49 108.68 C940.89 108.58 942.29 108.61 943.67 108.79 C945.05 108.97 946.4 109.27 947.75 109.78 C949.1 110.29 950.43 110.94 951.77 111.83 C953.11 112.72 954.44 113.79 955.78 115.1 C957.12 116.41 958.48 117.94 959.83 119.67 C961.18 121.4 962.51 123.35 963.86 125.47 C965.21 127.59 966.56 129.91 967.92 132.37 C969.28 134.83 970.64 137.46 972.03 140.22 C973.41 142.98 974.82 145.89 976.23 148.93 C977.64 151.97 979.06 155.16 980.48 158.46 C981.9 161.76 983.32 165.19 984.74 168.72 C986.16 172.25 987.58 175.92 989.01 179.65 C990.44 183.38 991.87 187.22 993.3 191.12 C994.73 195.02 996.16 199.01 997.59 203.03 C999.02 207.05 1000.46 211.13 1001.89 215.22 C1003.32 219.31 1004.75 223.43 1006.18 227.55 C1007.61 231.67 1009.05 235.8 1010.48 239.93 C1011.91 244.06 1013.34 248.18 1014.77 252.33 C1016.2 256.48 1017.62 260.63 1019.05 264.82 C1020.48 269.01 1021.91 273.21 1023.34 277.49 C1024.77 281.77 1026.2 286.08 1027.63 290.48 C1029.06 294.88 1030.48 299.34 1031.91 303.89 C1033.34 308.44 1034.78 313.05 1036.21 317.77 C1037.64 322.49 1039.07 327.29 1040.51 332.18 C1041.95 337.07 1043.39 342.06 1044.83 347.13 C1046.27 352.2 1047.72 357.35 1049.16 362.59 C1050.6 367.82 1052.04 373.16 1053.47 378.54 C1054.9 383.92 1057.02 392.16 1057.73 394.89" stroke="#000" stroke-width="2" stroke-linecap="butt" fill="none"/>
<circle cx="1057.73" cy="394.89" r="1.5" fill="#000"/>
</g>
<!-- panel 4 -->
<g>
<path d="M61.5 565.7 V959.5 M111.5 565.7 V959.5 M160.5 565.7 V959.5 M210.5 565.7 V959.5 M259.5 565.7 V959.5 M309.5 565.7 V959.5 M61.5 578.5 H355 M61.5 959.5 H355" stroke="#D9D9D9" stroke-width="1" fill="none"/>
<g mask="url(#m4)"><g filter="url(#rb)" transform="translate(0 1076.4) scale(1 -1)"><text x="7.4" y="537.6" font-size="17.6" fill="#42516A" textLength="38.61" lengthAdjust="spacingAndGlyphs">Real</text><text x="50.2" y="537.6" font-size="17.6" fill="#42516A" textLength="35.86" lengthAdjust="spacingAndGlyphs">S&amp;P</text><text x="91.23" y="537.6" font-size="17.6" fill="#42516A" textLength="33.65" lengthAdjust="spacingAndGlyphs">500</text><text x="128.97" y="537.6" font-size="17.6" fill="#42516A" textLength="48.74" lengthAdjust="spacingAndGlyphs">Index</text><text x="182.41" y="537.6" font-size="17.6" fill="#42516A" textLength="91.99" lengthAdjust="spacingAndGlyphs">1997-2003</text></g></g>
<g filter="url(#tsh)"><text x="7.4" y="537.6" font-size="17.6" fill="#42516A" textLength="38.61" lengthAdjust="spacingAndGlyphs">Real</text><text x="50.2" y="537.6" font-size="17.6" fill="#42516A" textLength="35.86" lengthAdjust="spacingAndGlyphs">S&amp;P</text><text x="91.23" y="537.6" font-size="17.6" fill="#42516A" textLength="33.65" lengthAdjust="spacingAndGlyphs">500</text><text x="128.97" y="537.6" font-size="17.6" fill="#42516A" textLength="48.74" lengthAdjust="spacingAndGlyphs">Index</text><text x="182.41" y="537.6" font-size="17.6" fill="#42516A" textLength="91.99" lengthAdjust="spacingAndGlyphs">1997-2003</text></g>
<text x="5" y="582.7" font-size="12" fill="#44546A" textLength="43.58" lengthAdjust="spacingAndGlyphs">2000.00</text>
<text x="4.74" y="963.05" font-size="12" fill="#44546A" textLength="43.84" lengthAdjust="spacingAndGlyphs">1000.00</text>
<text x="49.7" y="981.1" font-size="12" fill="#44546A" textLength="26.7" lengthAdjust="spacingAndGlyphs">1998</text>
<text x="99.7" y="981.1" font-size="12" fill="#44546A" textLength="26.7" lengthAdjust="spacingAndGlyphs">1999</text>
<text x="148.95" y="981.1" font-size="12" fill="#44546A" textLength="26.44" lengthAdjust="spacingAndGlyphs">2000</text>
<text x="198.95" y="981.1" font-size="12" fill="#44546A" textLength="26.44" lengthAdjust="spacingAndGlyphs">2001</text>
<text x="247.95" y="981.1" font-size="12" fill="#44546A" textLength="26.44" lengthAdjust="spacingAndGlyphs">2002</text>
<text x="297.95" y="981.1" font-size="12" fill="#44546A" textLength="26.44" lengthAdjust="spacingAndGlyphs">2003</text>
<path d="M108.5 1009.4 H133.8" stroke="#5B9BD5" stroke-width="3" stroke-linecap="round" fill="none"/>
<text x="136.7" y="1012.9" font-size="12" fill="#44546A" textLength="118.11" lengthAdjust="spacingAndGlyphs">Real S&amp;P 500 Index</text>
<g clip-path="url(#c4)"><path filter="url(#sh)" d="M57.33 812.33 L61.67 787.33 L64 786.67 L66.67 768.33 L69.33 745 L72 726.67 L75.33 712.33 L79.33 713.33 L84 715 L88.33 692.33 L92.67 731.67 L96.67 762.33 L100 756.67 L104 700 L106.67 690 L110 671.67 L113.33 654.33 L116.67 655 L120.67 642.33 L125 624.33 L129.33 625.67 L133.33 629 L137.33 607.67 L142 630 L146.67 637.67 L150.67 645 L154.67 610 L158.33 593.33 L162 597.67 L166.67 614.33 L171.33 600 L175.33 591.67 L179.33 608.33 L183.33 595 L187.33 591.67 L191.33 586.67 L195.33 596.67 L199.33 626.67 L204 633.33 L208 651.67 L212 652.33 L216 666.67 L220 720.67 L224 721 L228.33 688.33 L232.67 701.67 L236.67 715 L240.67 728.33 L245 797.67 L249.33 775 L253.33 751.67 L257.33 742.33 L261.33 746.67 L266 766.67 L270 744.33 L274 761.67 L278 788.33 L282 815 L284 847 L286 882 L290 878 L294 907 L299.33 917 L303.33 882 L306.67 885.33 L311.33 892 L315.33 933.67 L319.33 931 L323.33 900.33 L328.33 873.67 L332 844.33 L336 842 L340 846.33 L344 832 L348 820.33 L352 812 L354.67 800.33 L358 789" stroke="#5B9BD5" stroke-width="2.7" stroke-linejoin="round" stroke-linecap="round" fill="none"/></g>
<path d="M104.1 693.1 C104.8 691.68 106.91 687.39 108.32 684.56 C109.73 681.72 111.14 678.91 112.55 676.09 C113.96 673.27 115.36 670.44 116.77 667.63 C118.18 664.82 119.58 662 120.99 659.21 C122.4 656.42 123.8 653.64 125.21 650.9 C126.62 648.16 128.03 645.45 129.44 642.79 C130.85 640.13 132.25 637.51 133.66 634.96 C135.07 632.41 136.47 629.91 137.88 627.49 C139.29 625.07 140.7 622.73 142.11 620.46 C143.52 618.19 144.92 615.99 146.33 613.87 C147.74 611.75 149.14 609.72 150.55 607.77 C151.96 605.82 153.37 603.94 154.78 602.17 C156.19 600.4 157.59 598.71 159 597.14 C160.41 595.57 161.81 594.08 163.22 592.74 C164.63 591.4 166.03 590.18 167.44 589.11 C168.85 588.04 170.26 587.11 171.67 586.31 C173.08 585.51 174.48 584.85 175.89 584.31 C177.3 583.76 178.7 583.34 180.11 583.04 C181.52 582.74 182.94 582.56 184.34 582.48 C185.75 582.4 187.15 582.41 188.54 582.59 C189.93 582.77 191.3 583.07 192.68 583.58 C194.06 584.09 195.43 584.74 196.8 585.63 C198.17 586.52 199.53 587.59 200.9 588.9 C202.27 590.21 203.65 591.74 205.02 593.47 C206.39 595.2 207.76 597.15 209.14 599.27 C210.51 601.39 211.89 603.71 213.27 606.17 C214.65 608.63 216.04 611.26 217.43 614.02 C218.82 616.78 220.23 619.69 221.64 622.73 C223.05 625.77 224.47 628.96 225.88 632.26 C227.29 635.56 228.71 638.99 230.12 642.52 C231.53 646.05 232.95 649.72 234.37 653.45 C235.79 657.18 237.22 661.02 238.64 664.92 C240.06 668.82 241.48 672.81 242.9 676.83 C244.32 680.85 245.74 684.93 247.16 689.02 C248.58 693.11 250 697.23 251.42 701.35 C252.84 705.47 254.27 709.6 255.69 713.73 C257.11 717.86 258.52 721.98 259.94 726.13 C261.36 730.28 262.78 734.43 264.2 738.62 C265.62 742.81 267.04 747.01 268.46 751.29 C269.88 755.57 271.3 759.88 272.72 764.28 C274.14 768.68 275.56 773.14 276.98 777.69 C278.4 782.24 279.82 786.86 281.24 791.57 C282.66 796.29 284.09 801.09 285.51 805.98 C286.93 810.87 288.35 815.86 289.78 820.93 C291.2 826 292.63 831.15 294.06 836.39 C295.49 841.62 296.92 846.96 298.34 852.34 C299.76 857.72 301.87 865.97 302.58 868.69" stroke="#000" stroke-width="2" stroke-linecap="butt" fill="none"/>
<circle cx="302.58" cy="868.69" r="1.5" fill="#000"/>
</g>
<!-- panel 5 -->
<g>
<path d="M413.5 565.7 V959.5 M467.5 565.7 V959.5 M522.5 565.7 V959.5 M576.5 565.7 V959.5 M630.5 565.7 V959.5 M685.5 565.7 V959.5 M413.5 610.5 H689 M413.5 959.5 H689" stroke="#D9D9D9" stroke-width="1" fill="none"/>
<g mask="url(#m5)"><g filter="url(#rb)" transform="translate(0 1076.4) scale(1 -1)"><text x="359.4" y="537.6" font-size="17.6" fill="#42516A" textLength="38.61" lengthAdjust="spacingAndGlyphs">Real</text><text x="402.2" y="537.6" font-size="17.6" fill="#42516A" textLength="35.86" lengthAdjust="spacingAndGlyphs">S&amp;P</text><text x="443.23" y="537.6" font-size="17.6" fill="#42516A" textLength="33.65" lengthAdjust="spacingAndGlyphs">500</text><text x="480.97" y="537.6" font-size="17.6" fill="#42516A" textLength="48.74" lengthAdjust="spacingAndGlyphs">Index</text><text x="534.96" y="537.6" font-size="17.6" fill="#42516A" textLength="91.44" lengthAdjust="spacingAndGlyphs">2006-2009</text></g></g>
<g filter="url(#tsh)"><text x="359.4" y="537.6" font-size="17.6" fill="#42516A" textLength="38.61" lengthAdjust="spacingAndGlyphs">Real</text><text x="402.2" y="537.6" font-size="17.6" fill="#42516A" textLength="35.86" lengthAdjust="spacingAndGlyphs">S&amp;P</text><text x="443.23" y="537.6" font-size="17.6" fill="#42516A" textLength="33.65" lengthAdjust="spacingAndGlyphs">500</text><text x="480.97" y="537.6" font-size="17.6" fill="#42516A" textLength="48.74" lengthAdjust="spacingAndGlyphs">Index</text><text x="534.96" y="537.6" font-size="17.6" fill="#42516A" textLength="91.44" lengthAdjust="spacingAndGlyphs">2006-2009</text></g>
<text x="356.94" y="614.7" font-size="12" fill="#44546A" textLength="43.84" lengthAdjust="spacingAndGlyphs">1600.00</text>
<text x="362.78" y="963.1" font-size="12" fill="#44546A" textLength="38.09" lengthAdjust="spacingAndGlyphs">800.00</text>
<text x="401.96" y="981.1" font-size="12" fill="#44546A" textLength="25.93" lengthAdjust="spacingAndGlyphs">2004</text>
<text x="455.95" y="981.1" font-size="12" fill="#44546A" textLength="26.44" lengthAdjust="spacingAndGlyphs">2005</text>
<text x="510.95" y="981.1" font-size="12" fill="#44546A" textLength="26.44" lengthAdjust="spacingAndGlyphs">2006</text>
<text x="564.95" y="981.1" font-size="12" fill="#44546A" textLength="26.44" lengthAdjust="spacingAndGlyphs">2007</text>
<text x="618.95" y="981.1" font-size="12" fill="#44546A" textLength="26.44" lengthAdjust="spacingAndGlyphs">2008</text>
<text x="673.95" y="981.1" font-size="12" fill="#44546A" textLength="26.44" lengthAdjust="spacingAndGlyphs">2009</text>
<path d="M460.7 1009.4 H485.2" stroke="#5B9BD5" stroke-width="3" stroke-linecap="round" fill="none"/>
<text x="488.5" y="1012.9" font-size="12" fill="#44546A" textLength="118.11" lengthAdjust="spacingAndGlyphs">Real S&amp;P 500 Index</text>
<g clip-path="url(#c5)"><path filter="url(#sh)" d="M411.67 715 L414 688.33 L415.67 678.33 L420.33 675.67 L425 686.67 L429.67 684.33 L433.67 701 L438.33 690 L443 701 L447.67 708.33 L451.67 696.67 L455.67 699 L460.33 678.33 L465 662.33 L470.33 670 L474.33 665.67 L479 671 L483.67 688.33 L488.33 681.67 L493 671 L497.67 665 L501.67 667.67 L506.33 673.33 L510.33 688.33 L514.33 668.33 L519 653.33 L523 651 L527 652.33 L531.67 649 L536.33 650 L541 655 L547 672.33 L551 670 L555.67 662.33 L560.33 645 L565 626.67 L569.67 615 L574.33 606.67 L579 605.67 L583.67 602.33 L587.67 620 L592.33 605 L596.33 590 L601 590 L605.67 587.67 L609.67 606.67 L614.33 595 L619.33 583.33 L624.33 611.67 L628.33 606.67 L633 643.33 L637.67 655 L642.33 673.33 L646.33 656.67 L651 648.33 L655.67 678.33 L660.33 711 L664.33 699 L669 724.33 L671 781.67 L673 835 L677.67 870 L682.33 869 L687 876.67 L688.33 887 L691.2 917" stroke="#5B9BD5" stroke-width="2.7" stroke-linejoin="round" stroke-linecap="round" fill="none"/></g>
<path d="M500.15 696.3 C500.85 694.8 502.96 690.3 504.37 687.33 C505.78 684.36 507.19 681.4 508.6 678.48 C510.01 675.56 511.41 672.66 512.82 669.81 C514.23 666.96 515.63 664.13 517.04 661.37 C518.45 658.61 519.85 655.9 521.26 653.25 C522.67 650.6 524.08 648.01 525.49 645.44 C526.9 642.88 528.3 640.35 529.71 637.86 C531.12 635.37 532.52 632.91 533.93 630.52 C535.34 628.12 536.75 625.77 538.16 623.49 C539.57 621.21 540.97 618.96 542.38 616.81 C543.79 614.66 545.19 612.57 546.6 610.57 C548.01 608.57 549.42 606.63 550.83 604.81 C552.24 602.99 553.64 601.26 555.05 599.67 C556.46 598.07 557.86 596.59 559.27 595.24 C560.68 593.89 562.08 592.66 563.49 591.59 C564.9 590.52 566.31 589.59 567.72 588.8 C569.13 588.01 570.53 587.36 571.94 586.85 C573.35 586.34 574.75 585.94 576.16 585.73 C577.57 585.52 578.99 585.61 580.39 585.62 C581.79 585.63 583.2 585.6 584.58 585.79 C585.96 585.98 587.31 586.27 588.67 586.78 C590.03 587.29 591.37 587.94 592.72 588.83 C594.07 589.72 595.4 590.79 596.75 592.1 C598.1 593.41 599.46 594.94 600.81 596.67 C602.16 598.4 603.51 600.35 604.87 602.47 C606.23 604.59 607.58 606.91 608.94 609.37 C610.31 611.83 611.67 614.46 613.06 617.22 C614.45 619.98 615.86 622.89 617.27 625.93 C618.68 628.97 620.1 632.16 621.52 635.46 C622.94 638.76 624.35 642.19 625.77 645.72 C627.19 649.25 628.61 652.92 630.04 656.65 C631.47 660.38 632.9 664.22 634.33 668.12 C635.76 672.02 637.18 676.01 638.61 680.03 C640.04 684.05 641.46 688.13 642.89 692.22 C644.32 696.31 645.75 700.43 647.18 704.55 C648.61 708.67 650.04 712.8 651.47 716.93 C652.9 721.06 654.33 725.18 655.75 729.33 C657.17 733.48 658.59 737.63 660.02 741.82 C661.45 746.01 662.88 750.21 664.31 754.49 C665.74 758.77 667.16 763.08 668.59 767.48 C670.02 771.88 671.44 776.34 672.87 780.89 C674.3 785.44 675.73 790.05 677.16 794.77 C678.59 799.49 680.02 804.29 681.45 809.18 C682.88 814.07 684.32 819.06 685.76 824.13 C687.2 829.2 688.63 834.36 690.07 839.59 C691.51 844.83 692.95 850.16 694.38 855.54 C695.81 860.92 697.92 869.16 698.63 871.89" stroke="#000" stroke-width="2" stroke-linecap="butt" fill="none"/>
<circle cx="698.63" cy="871.89" r="1.5" fill="#000"/>
</g>
<!-- panel 6 -->
<g>
<path d="M766.5 564.3 V958.3 M800.5 564.3 V958.3 M834.5 564.3 V958.3 M869.5 564.3 V958.3 M903.5 564.3 V958.3 M766.5 735.5 H933.7 M766.5 958.3 H933.7" stroke="#D9D9D9" stroke-width="1" fill="none"/>
<g mask="url(#m6)"><g filter="url(#rb)" transform="translate(0 1075) scale(1 -1)"><text x="712.4" y="536.9" font-size="17.6" fill="#42516A" textLength="38.61" lengthAdjust="spacingAndGlyphs">Real</text><text x="755.2" y="536.9" font-size="17.6" fill="#42516A" textLength="35.86" lengthAdjust="spacingAndGlyphs">S&amp;P</text><text x="796.23" y="536.9" font-size="17.6" fill="#42516A" textLength="33.65" lengthAdjust="spacingAndGlyphs">500</text><text x="833.97" y="536.9" font-size="17.6" fill="#42516A" textLength="48.74" lengthAdjust="spacingAndGlyphs">Index</text><text x="887.67" y="536.9" font-size="17.6" fill="#42516A" textLength="59.6" lengthAdjust="spacingAndGlyphs">2009-?</text></g></g>
<g filter="url(#tsh)"><text x="712.4" y="536.9" font-size="17.6" fill="#42516A" textLength="38.61" lengthAdjust="spacingAndGlyphs">Real</text><text x="755.2" y="536.9" font-size="17.6" fill="#42516A" textLength="35.86" lengthAdjust="spacingAndGlyphs">S&amp;P</text><text x="796.23" y="536.9" font-size="17.6" fill="#42516A" textLength="33.65" lengthAdjust="spacingAndGlyphs">500</text><text x="833.97" y="536.9" font-size="17.6" fill="#42516A" textLength="48.74" lengthAdjust="spacingAndGlyphs">Index</text><text x="887.67" y="536.9" font-size="17.6" fill="#42516A" textLength="59.6" lengthAdjust="spacingAndGlyphs">2009-?</text></g>
<text x="710.14" y="739.7" font-size="12" fill="#44546A" textLength="43.84" lengthAdjust="spacingAndGlyphs">1200.00</text>
<text x="715.98" y="961.9" font-size="12" fill="#44546A" textLength="38.09" lengthAdjust="spacingAndGlyphs">600.00</text>
<text x="754.75" y="979.9" font-size="12" fill="#44546A" textLength="26.44" lengthAdjust="spacingAndGlyphs">2009</text>
<text x="788.75" y="979.9" font-size="12" fill="#44546A" textLength="26.44" lengthAdjust="spacingAndGlyphs">2010</text>
<text x="822.75" y="979.9" font-size="12" fill="#44546A" textLength="26.29" lengthAdjust="spacingAndGlyphs">2011</text>
<text x="857.75" y="979.9" font-size="12" fill="#44546A" textLength="26.44" lengthAdjust="spacingAndGlyphs">2012</text>
<text x="891.75" y="979.9" font-size="12" fill="#44546A" textLength="26.44" lengthAdjust="spacingAndGlyphs">2013</text>
<path d="M814 1008.2 H838.8" stroke="#5B9BD5" stroke-width="3" stroke-linecap="round" fill="none"/>
<text x="842" y="1011.7" font-size="12" fill="#44546A" textLength="118.11" lengthAdjust="spacingAndGlyphs">Real S&amp;P 500 Index</text>
<g clip-path="url(#c6)"><path filter="url(#sh)" d="M766.33 808.33 L768.33 821.67 L771 841.67 L773.67 859 L775.67 831.67 L777.67 815 L779.67 804.33 L782.33 799 L785 795 L787.67 771.67 L790.33 760 L793 746.67 L796.33 740 L799.67 733.33 L802.33 731 L805 740 L807.67 721.67 L810.33 711.67 L813 728.33 L815.67 741.67 L818.33 745.67 L821.67 744.33 L824.33 731.67 L827 720 L830.33 711.67 L833.67 698.33 L836.33 690 L839 686 L841.67 692.33 L844.33 688.33 L847 689 L850.33 700 L853.67 691 L855 708.33 L857 728.33 L859.67 731.67 L861.67 721.67 L864.33 716.67 L867 710 L869.67 698.33 L872.33 688.33 L875 682.33 L877.67 681 L880.33 686.67 L882.33 694.33 L885 696.67 L887.67 686.67 L890.33 679 L893 671.67 L895.67 673.33 L899 681 L901.67 671.67 L904.33 662.33 L907 658.33 L909.67 651.67 L912.33 647.67 L914.33 640 L916.33 633.33 L918.33 637.67 L921 628.33 L923.67 627.67 L926.33 625.67 L929 623.33 L931.67 618.33 L933.67 612.33" stroke="#5B9BD5" stroke-width="2.7" stroke-linejoin="round" stroke-linecap="round" fill="none"/></g>
<path d="M847.9 712.4 C848.6 711.02 850.71 706.89 852.12 704.15 C853.53 701.41 854.94 698.68 856.35 695.96 C857.76 693.24 859.16 690.54 860.57 687.84 C861.98 685.14 863.38 682.46 864.79 679.79 C866.2 677.12 867.6 674.47 869.01 671.84 C870.42 669.21 871.83 666.6 873.24 664.03 C874.65 661.46 876.05 658.91 877.46 656.4 C878.87 653.89 880.27 651.41 881.68 648.99 C883.09 646.57 884.5 644.18 885.91 641.86 C887.32 639.54 888.72 637.26 890.13 635.07 C891.54 632.88 892.94 630.75 894.35 628.71 C895.76 626.67 897.17 624.69 898.58 622.83 C899.99 620.97 901.39 619.19 902.8 617.54 C904.21 615.89 905.61 614.35 907.02 612.94 C908.43 611.53 909.83 610.24 911.24 609.09 C912.65 607.94 914.06 606.93 915.47 606.06 C916.88 605.19 918.28 604.46 919.69 603.85 C921.1 603.25 922.5 602.77 923.91 602.43 C925.32 602.08 926.73 601.87 928.14 601.78 C929.55 601.69 930.95 601.71 932.36 601.89 C933.77 602.07 935.17 602.37 936.58 602.88 C937.99 603.39 939.4 604.04 940.81 604.93 C942.22 605.82 943.62 606.89 945.03 608.2 C946.44 609.51 947.84 611.04 949.25 612.77 C950.66 614.5 952.06 616.45 953.47 618.57 C954.88 620.69 956.29 623.01 957.7 625.47 C959.11 627.93 960.51 630.56 961.92 633.32 C963.33 636.08 964.73 638.99 966.14 642.03 C967.55 645.07 968.96 648.26 970.37 651.56 C971.78 654.86 973.18 658.29 974.59 661.82 C976 665.35 977.4 669.02 978.81 672.75 C980.22 676.48 981.63 680.32 983.04 684.22 C984.45 688.12 985.85 692.11 987.26 696.13 C988.67 700.15 990.07 704.23 991.48 708.32 C992.89 712.41 994.29 716.53 995.7 720.65 C997.11 724.77 998.52 728.9 999.93 733.03 C1001.34 737.16 1002.74 741.28 1004.15 745.43 C1005.56 749.58 1006.96 753.73 1008.37 757.92 C1009.78 762.11 1011.19 766.31 1012.6 770.59 C1014.01 774.87 1015.41 779.18 1016.82 783.58 C1018.23 787.98 1019.63 792.44 1021.04 796.99 C1022.45 801.54 1023.86 806.15 1025.27 810.87 C1026.68 815.59 1028.08 820.39 1029.49 825.28 C1030.9 830.17 1032.3 835.16 1033.71 840.23 C1035.12 845.3 1036.52 850.46 1037.93 855.69 C1039.34 860.93 1040.75 866.26 1042.16 871.64 C1043.57 877.02 1045.68 885.26 1046.38 887.99" stroke="#000" stroke-width="2" stroke-linecap="butt" fill="none"/>
<circle cx="1046.38" cy="887.99" r="1.5" fill="#000"/>
</g>
<g filter="url(#tsh)"><text x="911.84" y="948.4" font-size="15" fill="#44546A" textLength="120.8" lengthAdjust="spacingAndGlyphs">STAWEALTH.COM</text></g>
</svg></body></html>
